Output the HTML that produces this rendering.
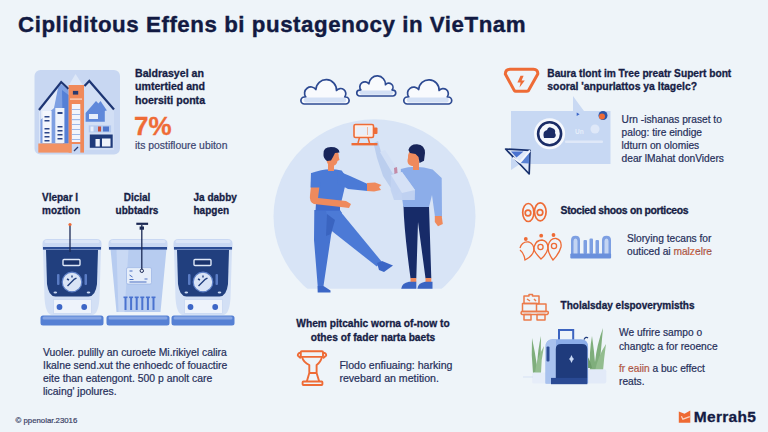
<!DOCTYPE html>
<html><head><meta charset="utf-8">
<style>
html,body{margin:0;padding:0;}
body{width:768px;height:432px;overflow:hidden;position:relative;background:#eef4f9;font-family:"Liberation Sans",sans-serif;}
.t{position:absolute;white-space:nowrap;}
svg{position:absolute;left:0;top:0;}
</style></head><body>
<svg width="768" height="432" viewBox="0 0 768 432">
<defs><linearGradient id="bg" x1="0" y1="0" x2="0" y2="1"><stop offset="0" stop-color="#eef2f9"/><stop offset="1" stop-color="#eef2f9"/></linearGradient></defs>
<path d="M304.4,104.0 A3.5,3.5 0 0 1 304.4,97.0 L305.8,97.0 A5.0,5.0 0 0 1 315.9,89.5 A7.5,7.5 0 0 1 336.5,90.5 A5.0,5.0 0 0 1 344.7,97.0 L345.6,97.0 A3.5,3.5 0 0 1 345.6,104.0 Z" fill="#f8fafd" stroke="#2d4a92" stroke-width="1.7" stroke-linejoin="round"/><rect x="303.9" y="97.5" width="42.2" height="5.0" rx="2.5" fill="#d3e0f5"/><path d="M359.7,96.0 A2.9,2.9 0 0 1 359.7,90.1 L360.9,90.1 A4.2,4.2 0 0 1 368.9,83.8 A6.3,6.3 0 0 1 385.5,84.7 A4.2,4.2 0 0 1 392.0,90.1 L392.8,90.1 A2.9,2.9 0 0 1 392.8,96.0 Z" fill="#f8fafd" stroke="#2d4a92" stroke-width="1.7" stroke-linejoin="round"/><rect x="359.3" y="90.5" width="33.9" height="4.2" rx="2.1" fill="#d3e0f5"/><path d="M407.3,104.0 A3.5,3.5 0 0 1 407.3,97.0 L408.8,97.0 A5.0,5.0 0 0 1 418.7,89.5 A7.5,7.5 0 0 1 439.1,90.5 A5.0,5.0 0 0 1 447.2,97.0 L448.2,97.0 A3.5,3.5 0 0 1 448.2,104.0 Z" fill="#f8fafd" stroke="#2d4a92" stroke-width="1.7" stroke-linejoin="round"/><rect x="406.9" y="97.5" width="41.8" height="5.0" rx="2.5" fill="#d3e0f5"/><clipPath id="cc"><rect x="0" y="0" width="768" height="288.7"/></clipPath><ellipse cx="374.5" cy="216.3" rx="101" ry="97" fill="#d8e4f6" clip-path="url(#cc)"/><g>
<rect x="34.5" y="70" width="85.5" height="84.5" rx="6" fill="#c8d7f2"/>
<path d="M75.5,74 L86,90 L66,90 Z" fill="#dde7f7"/>
<path d="M39,110 L61.2,82 L68.6,89 L68.6,143.5 L39,143.5 Z" fill="#dbe6f8"/>
<path d="M40.4,108 L61.2,84 L68.6,90 L68.6,143.5 L40.4,143.5 Z" fill="#7d9fe2"/><path d="M40.4,108 L58,88 L54,108 L40.4,120 Z" fill="#e3ebf9"/><path d="M62,90 L68.6,95 L68.6,143.5 L63,143.5 Z" fill="#5580d6"/>
<rect x="42.5" y="111" width="9.1" height="32" fill="#f3f6fc"/>
<rect x="55.3" y="108" width="9.1" height="35" fill="#eef3fb"/>
<g fill="#2c4688"><rect x="44.5" y="116" width="5" height="1.5"/><rect x="44.5" y="120" width="5" height="1.5"/><rect x="44.5" y="128" width="5" height="1.5"/><rect x="44.5" y="132" width="5" height="1.5"/><rect x="44.5" y="136" width="5" height="1.5"/><rect x="44.5" y="140" width="5" height="1.5"/>
<rect x="57.5" y="112" width="5" height="2"/><rect x="57.5" y="126" width="5" height="1.5"/><rect x="57.5" y="130" width="5" height="1.5"/><rect x="57.5" y="134" width="5" height="1.5"/><rect x="57.5" y="138" width="5" height="1.5"/></g>
<path d="M39,110 L61.2,82 L68.6,89" fill="none" stroke="#1d3573" stroke-width="2.2" stroke-linejoin="miter"/>
<path d="M84.5,86 L89.3,81 L114,109.5 L114,150 L84.5,150 Z" fill="#d2dff5"/>
<path d="M85.6,121.7 L85.6,113 L96,101 L104.8,110 L104.8,121.7 Z" fill="#5f88da"/>
<rect x="89" y="114" width="9" height="5" fill="#e6eefa"/>
<path d="M89.8,113.8 L100.5,101 L106.9,110.6 Z" fill="#5f88da"/>
<rect x="88.8" y="125.4" width="22.3" height="7" fill="#b3c8ee"/>
<rect x="90.5" y="126.5" width="3" height="5" fill="#e8eefa"/><rect x="98" y="126.5" width="3" height="5" fill="#c84e3a"/><rect x="103" y="126.5" width="6" height="5" fill="#4f76cc"/>
<path d="M84.5,86 L89.3,81 L114,109.5" fill="none" stroke="#1d3573" stroke-width="2.2"/>
<rect x="68.6" y="85" width="15.4" height="67.6" fill="#f0895a"/>
<rect x="72.9" y="90.9" width="5.3" height="3.7" fill="#2a3a6e"/>
<rect x="70" y="98.5" width="12" height="1.2" fill="#fbd9c6"/>
<rect x="71.8" y="104" width="8.5" height="38" fill="#f2f5fc"/>
<g fill="#9db9ea"><rect x="71.8" y="109" width="8.5" height="1"/><rect x="71.8" y="114" width="8.5" height="1"/><rect x="71.8" y="119" width="8.5" height="1.2"/><rect x="71.8" y="124" width="8.5" height="1"/><rect x="71.8" y="129" width="8.5" height="1"/><rect x="71.8" y="134" width="8.5" height="1"/><rect x="71.8" y="139" width="8.5" height="1"/></g>
<rect x="38.3" y="143.5" width="33.5" height="9.1" fill="#f29264"/>
<rect x="71.8" y="144" width="8.5" height="9.5" fill="#c6d6f2"/>
<path d="M74,151 L78,147" stroke="#2a3a6e" stroke-width="1.3"/>
<rect x="89.8" y="134.5" width="22.9" height="13.3" fill="#1f3a7a"/>
<rect x="95.5" y="139" width="4.3" height="7.5" fill="#f0f4fb"/>
<rect x="102" y="138.5" width="8.5" height="8" fill="#f0f4fb"/>
</g><rect x="40.5" y="315.5" width="63" height="10" rx="2.5" fill="#5580d4"/><rect x="42.5" y="316.5" width="59" height="3" rx="1.5" fill="#86a5e3"/><path d="M43.0,249 L101.0,249 L99.5,298 Q98.5,314 92.5,315 L51.5,315 Q45.5,314 44.5,298 Z" fill="#d3e0f5"/><path d="M46.0,250 L98.0,250 L97.0,284 Q95.5,296.5 88.5,296.5 L55.5,296.5 Q48.5,296.5 47.0,284 Z" fill="#213f7e"/><rect x="53.5" y="299.5" width="38" height="14" fill="#eef3fb" stroke="#c9d8f2" stroke-width="0.8"/><circle cx="72.0" cy="282" r="9.8" fill="#d9e4f6" stroke="#5d7fc6" stroke-width="1.2"/><path d="M67.5,286 L74.5,279 M67.0,279 l2,1 M72.0,275.5 l0,2 M76.5,278 l-2,1.2" stroke="#213f7e" stroke-width="1.4"/><rect x="63.0" y="259.5" width="17" height="6" rx="1" fill="#1a336c" stroke="#dfe8f8" stroke-width="1.4"/><rect x="57.0" y="274" width="2.5" height="11" rx="1" fill="#5a7cc4"/><rect x="84.5" y="274" width="2.5" height="11" rx="1" fill="#5a7cc4"/><ellipse cx="55.3" cy="292.5" rx="1.8" ry="1" fill="#c9d8f2"/><ellipse cx="88.5" cy="292.5" rx="1.8" ry="1" fill="#c9d8f2"/><circle cx="59.5" cy="307" r="2.9" fill="#3d66c6"/><circle cx="84.2" cy="307" r="2.9" fill="#3d66c6"/><path d="M42.5,249.5 L42.5,243.5 Q42.5,239 47.5,239 L96.5,239 Q101.5,239 101.5,243.5 L101.5,249.5 Z" fill="#c9d8f3"/><rect x="44.5" y="240" width="55" height="3" rx="1.5" fill="#dbe5f7"/><rect x="43.0" y="247" width="58" height="2.6" fill="#2a4b94"/><rect x="106.5" y="315.5" width="63" height="10" rx="2.5" fill="#5580d4"/><rect x="108.5" y="316.5" width="59" height="3" rx="1.5" fill="#86a5e3"/><path d="M110.5,249 L166.5,249 L160.5,312 L116.5,312 Z" fill="#b7ccf0"/><path d="M116.5,249 L128.5,249 L124.5,312 L118.5,312 Z" fill="#c9d9f4"/><rect x="126.5" y="267.6" width="25" height="16.5" rx="1.5" fill="#e6eefa" stroke="#9fb8e6" stroke-width="0.8"/><path d="M129.5,271 l3,0 M129.5,275 l3,2 M129.5,279.5 l4,0 M129.5,282 l17,0 M144.5,279 l3,0" stroke="#4a6fc2" stroke-width="1"/><rect x="124.5" y="297" width="2" height="13" fill="#4a72cf"/><rect x="123.5" y="296.5" width="4" height="1.6" fill="#4a72cf"/><rect x="130.1" y="297" width="2" height="13" fill="#4a72cf"/><rect x="129.1" y="296.5" width="4" height="1.6" fill="#4a72cf"/><rect x="135.7" y="297" width="2" height="13" fill="#4a72cf"/><rect x="134.7" y="296.5" width="4" height="1.6" fill="#4a72cf"/><rect x="141.3" y="297" width="2" height="13" fill="#4a72cf"/><rect x="140.3" y="296.5" width="4" height="1.6" fill="#4a72cf"/><rect x="146.9" y="297" width="2" height="13" fill="#4a72cf"/><rect x="145.9" y="296.5" width="4" height="1.6" fill="#4a72cf"/><rect x="152.5" y="297" width="2" height="13" fill="#4a72cf"/><rect x="151.5" y="296.5" width="4" height="1.6" fill="#4a72cf"/><path d="M108.5,249.5 L108.5,243.5 Q108.5,239 113.5,239 L162.5,239 Q167.5,239 167.5,243.5 L167.5,249.5 Z" fill="#c9d8f3"/><rect x="110.5" y="240" width="55" height="3" rx="1.5" fill="#dbe5f7"/><rect x="109.0" y="247" width="58" height="2.6" fill="#2a4b94"/><rect x="171.5" y="315.5" width="63" height="10" rx="2.5" fill="#5580d4"/><rect x="173.5" y="316.5" width="59" height="3" rx="1.5" fill="#86a5e3"/><path d="M174.0,249 L232.0,249 L230.5,298 Q229.5,314 223.5,315 L182.5,315 Q176.5,314 175.5,298 Z" fill="#d3e0f5"/><path d="M177.0,250 L229.0,250 L228.0,284 Q226.5,296.5 219.5,296.5 L186.5,296.5 Q179.5,296.5 178.0,284 Z" fill="#213f7e"/><rect x="184.5" y="299.5" width="38" height="14" fill="#eef3fb" stroke="#c9d8f2" stroke-width="0.8"/><circle cx="203.0" cy="282" r="9.8" fill="#d9e4f6" stroke="#5d7fc6" stroke-width="1.2"/><path d="M198.5,286 L205.5,279 M198.0,279 l2,1 M203.0,275.5 l0,2 M207.5,278 l-2,1.2" stroke="#213f7e" stroke-width="1.4"/><rect x="194.0" y="259.5" width="17" height="6" rx="1" fill="#1a336c" stroke="#dfe8f8" stroke-width="1.4"/><rect x="188.0" y="274" width="2.5" height="11" rx="1" fill="#5a7cc4"/><rect x="215.5" y="274" width="2.5" height="11" rx="1" fill="#5a7cc4"/><ellipse cx="186.3" cy="292.5" rx="1.8" ry="1" fill="#c9d8f2"/><ellipse cx="219.5" cy="292.5" rx="1.8" ry="1" fill="#c9d8f2"/><circle cx="190.5" cy="307" r="2.9" fill="#3d66c6"/><circle cx="215.2" cy="307" r="2.9" fill="#3d66c6"/><path d="M173.5,249.5 L173.5,243.5 Q173.5,239 178.5,239 L227.5,239 Q232.5,239 232.5,243.5 L232.5,249.5 Z" fill="#c9d8f3"/><rect x="175.5" y="240" width="55" height="3" rx="1.5" fill="#dbe5f7"/><rect x="174.0" y="247" width="58" height="2.6" fill="#2a4b94"/><line x1="70" y1="225" x2="70" y2="252" stroke="#1c2a55" stroke-width="1.3"/><circle cx="70" cy="224.5" r="1.6" fill="#ee6b36"/><line x1="141.8" y1="225" x2="141.8" y2="270" stroke="#1c2a55" stroke-width="1.3"/><rect x="136.3" y="222.7" width="11.8" height="2.2" fill="#1c2a55"/><rect x="139.6" y="226.5" width="4.4" height="3.2" fill="#1c2a55"/><circle cx="141.8" cy="270.8" r="1.7" fill="#e6eefa" stroke="#1c2a55" stroke-width="1"/><g>
<!-- transparent bottle / beam -->
<path d="M373.5,143 L378,141 L381,152 L394,166 L404,186 L396,196 L383,176 L377,158 Z" fill="#b9cced" opacity="0.95"/>
<path d="M380,152 L385,150 L398,170 L393,174 Z" fill="#d3e0f5"/>
<path d="M394,168 L397,167 L398,178 L395,180 Z" fill="#c48aa6"/>
<!-- monitor icon -->
<rect x="354" y="124.5" width="19.5" height="13" rx="1.5" fill="#fbeee8" stroke="#ee6b36" stroke-width="1.6"/>
<rect x="356.5" y="127" width="14.5" height="8" fill="#e9eff9"/><rect x="367" y="127" width="1" height="8" fill="#f3b79a"/>
<rect x="373.5" y="127.5" width="4" height="6.5" rx="1" fill="#ee6b36"/>
<path d="M359.5,137.5 L358,143 M368,137.5 L369.5,143" stroke="#ee6b36" stroke-width="1.5"/>
<rect x="351.5" y="143" width="26" height="2.4" fill="#ee6b36"/>
<!-- person 1 legs -->
<path d="M314.3,210 L340,210 L342,213 L332,229 L323.5,286 L317.7,286 L314,240 Z" fill="#4673d0"/>
<path d="M326,211 L340,211 L381.4,261.3 L376.8,266.5 L330.5,230 Z" fill="#4c7ad6"/>
<path d="M327,214 L335,220 L331,234 L326,236 Z" fill="#3a64c0"/>
<path d="M377,263 L382,261 L393,265.5 L384,272 L379,270 Z" fill="#3b66c6"/>
<path d="M317.5,286 L323.5,286 L330.5,290.5 L330.5,292.6 L317.7,292.6 Z" fill="#3b66c6"/>
<!-- person 1 torso -->
<path d="M312,173 Q326,167 341.7,170.5 L347,178 L340,207.6 L317.6,207.6 L313,190 Z" fill="#4b7ad6"/>
<path d="M316,203 L340,203 L340,210.5 L315.5,210.5 Z" fill="#3f6acb"/>
<path d="M338,171 L350,176 L367.7,184 L367.7,191 L348,189 L337,183 Z" fill="#4b7ad6"/>
<path d="M367,183 L375,182.5 L381.5,185 L379,187 L381,190 L374,191.5 L367,191 Z" fill="#ef8a5d"/>
<path d="M311,186 L319.5,186 L318,198 L346,201 L351,204 L349,208 L341,207 L314,204 Q309,202 310,195 Z" fill="#ef8a5d"/>
<path d="M311,173 L319,172 L320.5,187.5 L310.5,187.5 Z" fill="#4b7ad6"/>
<rect x="328" y="162" width="6" height="9" fill="#ef8a5d"/>
<path d="M326.5,156 Q327,149 333,149 Q339,150 338.8,157 L339.5,160 L337.5,161 Q337,166 331,166 Q327,165 326.5,160 Z" fill="#ef8a5d"/>
<path d="M323.5,154 Q323,147 331,147 Q339,147 339.5,152.5 L335,153 L333,157 L331,160.5 L327,161 Q323,158 323.5,154 Z" fill="#18255a"/>
<!-- person 2 legs -->
<path d="M403.5,206 L429,206 L431.3,278.3 L425.5,278.3 L418,222 L416.3,278.3 L410.5,278.3 Q404,230 403.5,206 Z" fill="#172b68"/>
<rect x="410.5" y="278" width="5.8" height="4" fill="#ef8a5d"/><rect x="425.5" y="278" width="5.8" height="4" fill="#ef8a5d"/>
<path d="M409,281.8 L416.3,281.8 L416.3,288.75 L401.2,288.75 Q402,283 409,281.8 Z" fill="#3a64c2"/>
<path d="M425,281.8 L432.5,281.8 L432.5,288.75 L417.4,288.75 Q418,283 425,281.8 Z" fill="#3a64c2"/>
<!-- person 2 torso -->
<path d="M400.8,169 Q416,164 432.6,169.6 L441.7,178 L442,217 L435,217 L432,195 L429,207 L403.3,207 L401,190 Z" fill="#8cade9"/>
<path d="M434.8,216 L441.7,216 L442.8,224 L438,226.2 L434.8,222 Z" fill="#ef8a5d"/>
<rect x="413" y="161" width="6" height="9" fill="#ef8a5d"/>
<path d="M408,158 Q407.5,151 413,150 Q419,150 419,157 L418.6,166 L412,166 Q407,165 407.5,160 Z" fill="#ef8a5d"/>
<path d="M408.4,150 Q410,144 417,144.2 Q425,145 425,153 L424,160.7 L419.5,163 L418.5,157 L415.5,154 L410,153 Z" fill="#18255a"/>
<path d="M391,175 L402,172 L415,190 L414.8,200 L394,200 L390.6,190 Z" fill="#c2d3f1" opacity="0.95"/>
<path d="M391,175 L402,172 L415,190 L402,193 Z" fill="#d5e1f6"/>
</g><g fill="none" stroke="#ee6b36" stroke-width="1.9" stroke-linejoin="round">
<rect x="300.8" y="351.3" width="22.2" height="5.6" rx="1"/>
<path d="M300.6,352.8 Q297.6,353 297.8,355.5 L300.8,358.2 M323,352.8 Q326.4,353 326.2,355.5 L323,358.2"/>
<path d="M302,357 Q303.5,362.5 309.3,365 L309.3,373 L306.8,381.5 M322,357 Q320.5,362.5 316.6,365 L316.6,373 L319.2,381.5 M309.3,373 L316.6,373"/>
<rect x="302.6" y="381.5" width="19.8" height="3.5" rx="0.8"/>
</g><path d="M505.3,74 Q505.5,69.2 510,69.2 L533.5,69.2 Q538,69.2 537.8,74 L528.5,90.6 Q527.8,91.3 526.5,91.3 L515.8,91.3 Q514.8,91.3 514.2,90.4 Z" fill="none" stroke="#ee6b36" stroke-width="3" stroke-linejoin="round"/>
<path d="M520.5,75.8 L523.6,75.8 L521.6,80.6 L524.8,80.6 L519.5,87.6 L520.6,82.6 L517.4,82.6 Z" fill="#ee6b36"/><g>
<path d="M573,96 Q578,103 584,111 L573,111 Z" fill="#c9d9f3"/>
<rect x="511" y="111" width="99.5" height="53" fill="#c7d8f3"/>
<circle cx="603" cy="115.5" r="4.5" fill="#2c55a8"/><circle cx="602" cy="116.5" r="3" fill="#ee6b36"/>
<path d="M576.7,112.5 L579.6,114.2 L576.7,116 Z" fill="#3b66c8"/><text x="575" y="134" font-family="Liberation Sans" font-size="6.5" font-weight="bold" fill="#e6eefa">Un</text>
<circle cx="549.6" cy="133.8" r="15.5" fill="#f5f8fd"/>
<circle cx="549.6" cy="133.8" r="11.5" fill="none" stroke="#1a2c66" stroke-width="2.6"/>
<path d="M544,138 Q542,131 547,130 Q548,126 552,128 Q556,129 555,133 Q557,136 554,138 Z" fill="#1a2c66"/>
<rect x="565" y="140.5" width="38" height="2.5" rx="1" fill="#dfe8f8"/>
<circle cx="595" cy="129" r="4.5" fill="#dfe8f8"/>
<path d="M511,164 L520,164 L511,170 Z" fill="#c7d8f3"/>
<path d="M505.6,149 L530,150.3 L529.2,174 Z" fill="#dfe8f8" stroke="#17306e" stroke-width="1.7" stroke-linejoin="round"/>
<path d="M511,151.5 L523.5,151.5 L516.5,157.5 Z" fill="#4a72cf"/>
<path d="M529.3,152 L529.2,163.5 L519.5,163 Z" fill="#5a82d4"/>
<path d="M513,157.5 L520,162.5 L530,150.5" fill="none" stroke="#f3f6fc" stroke-width="2"/>
</g><g fill="none" stroke="#ee6b36" stroke-width="1.7">
<ellipse cx="528.3" cy="212.5" rx="5.6" ry="9"/><ellipse cx="540.3" cy="211.8" rx="5.8" ry="9"/>
<circle cx="528" cy="213" r="2.8"/><circle cx="540" cy="212.5" r="2.8"/>
</g><g fill="none" stroke="#ee6b36" stroke-width="1.3">
<circle cx="525.8" cy="239" r="1.9" fill="#ee6b36" stroke="none"/><circle cx="541.2" cy="235.7" r="1.9" fill="#ee6b36" stroke="none"/><circle cx="553.5" cy="235" r="1.9" fill="#ee6b36" stroke="none"/>
<path d="M520,248 Q522,241 529,242 Q534,244 534,250 Q533,256 525,260 Q524,253 520,250"/>
<path d="M534,247 Q536,240 542,240 Q548,241 548,248 Q547,254 541,259 Q536,254 534,250 Z"/>
<path d="M548,246 Q550,238 556,238.5 Q562,240 561,247 Q559,254 553,260 Q548,253 548,248 Z"/>
<circle cx="540.5" cy="247" r="2.6"/><circle cx="554" cy="246" r="2.6"/>
</g><g>
<path d="M571,254 L571,240 Q571,235.7 575.5,235.7 Q580,235.7 580,240 L580,254 Z" fill="#7d9fe2"/>
<path d="M573.5,254 L573.5,241 Q573.5,238.5 575.5,238.5 Q577.5,238.5 577.5,241 L577.5,254 Z" fill="#c4d5f3"/>
<path d="M602,254 L602,240 Q602,235.7 606.5,235.7 Q611,235.7 611,240 L611,254 Z" fill="#7d9fe2"/>
<path d="M604.5,254 L604.5,241 Q604.5,238.5 606.5,238.5 Q608.5,238.5 608.5,241 L608.5,254 Z" fill="#c4d5f3"/>
<rect x="583.5" y="240" width="3.5" height="14" rx="1" fill="#7d9fe2"/>
<rect x="589.5" y="238.5" width="3.5" height="15.5" rx="1" fill="#7d9fe2"/>
<rect x="595.5" y="240" width="3.5" height="14" rx="1" fill="#7d9fe2"/>
<rect x="570.3" y="253.5" width="40.8" height="5" rx="1" fill="#6a90dc"/>
</g><g fill="none" stroke="#ec7a4a" stroke-width="1.5" stroke-linejoin="round">
<path d="M524,296 L529,296 L529,294.5 L532.5,294.5 L532.5,296 L539,296 L539,303.5 L524,303.5 Z"/>
<path d="M527,299 L530,301 M534,299 L536,301"/>
<path d="M522.5,303.5 L536.5,303.5 L536.5,311.5 L522.5,311.5 Z"/>
<path d="M536.5,304 L546,304 L546,311.5 L536.5,311.5"/>
<path d="M521.5,311.5 L548,311.5 Q549,313.5 547,314.5 L522,314.5 Q520.5,313.5 521.5,311.5 Z"/>
<path d="M524,314.5 L531,314.5 L531,320 L524,320 Z"/>
<path d="M537,314.5 L545,314.5 L545,320 L537,320 Z"/>
</g><g>
<path d="M533,373 Q531,355 532,338 Q535,352 537,366 Q538,348 541,336 Q541,354 540,372 Z" fill="#7fae7c"/>
<path d="M535,373 Q536,360 544,346 Q541,360 541,373 Z" fill="#93bd8f"/>
<path d="M590,371 Q589,352 592,336 Q594,350 595,362 Q597,344 603,328 Q601,350 599,371 Z" fill="#7fae7c"/>
<path d="M595,371 Q598,356 606,344 Q604,358 603,371 Z" fill="#93bd8f"/>
<path d="M588,368 Q586,356 584,352 Q590,358 592,368 Z" fill="#6d9c6a"/>
<rect x="532.2" y="372.4" width="18.8" height="11" rx="1.5" fill="#e6edf9"/>
<rect x="587.3" y="369.2" width="19" height="14.2" rx="2" fill="#e2eaf8"/>
<line x1="523" y1="377" x2="533" y2="377" stroke="#d6e1f4" stroke-width="1"/>
<path d="M559,340.5 L559,330 L573.2,330 L573.2,340.5" fill="none" stroke="#3c64c0" stroke-width="2"/>
<path d="M545.6,383.4 L545.6,347 Q545.6,339.3 553,339.3 L581,339.3 Q588.1,339.3 588.1,347 L588.1,383.4 Z" fill="#8cade8"/>
<path d="M545.6,383.4 L545.6,347 Q545.6,339.3 553,339.3 L556,339.3 L556,383.4 Z" fill="#a9c2ee"/>
<path d="M555.8,377.9 L555.8,349 Q555.8,344 561,344 L582,344 Q587.3,344 587.3,349 L587.3,377.9 Z" fill="#1f3b7c"/>
<rect x="551" y="377.9" width="36.3" height="6.3" fill="#2a4a94"/>
<rect x="546.5" y="346.5" width="3" height="15" rx="1" fill="#2a4a94"/>
<path d="M571.5,356.5 L572.7,359 L571.5,361.5 L570.3,359 Z M569,359 L574,359" stroke="#c8d8f4" stroke-width="1.2" fill="#c8d8f4"/>
<path d="M584,339.5 Q586,336 588,338" stroke="#1f3b7c" stroke-width="1.2" fill="none"/>
</g><path d="M678.8,411.5 L684.5,413.8 L690.3,410.6 L690.3,422.8 L678.8,422.8 Z" fill="#ee6a33"/><path d="M681.4,416.2 L682.9,419.2 L689.8,416.7" stroke="#f9d3c1" stroke-width="1.3" fill="none"/>
</svg>
<div class="t" style="left:18px;top:12.49px;font-size:22.3px;line-height:26.76px;font-weight:bold;color:#121a42;-webkit-text-stroke:0.3px #121a42;letter-spacing:0.55px;-webkit-text-stroke:0.4px #121a42;">Cipliditous Effens bi pustagenocy in VieTnam</div><div class="t" style="left:135px;top:66.77px;font-size:10.6px;line-height:12.72px;font-weight:bold;color:#161d45;-webkit-text-stroke:0.3px #161d45;">Baldrasyel an</div><div class="t" style="left:135px;top:80.17px;font-size:10.6px;line-height:12.72px;font-weight:bold;color:#161d45;-webkit-text-stroke:0.3px #161d45;">umtertied and</div><div class="t" style="left:135px;top:94.27px;font-size:10.6px;line-height:12.72px;font-weight:bold;color:#161d45;-webkit-text-stroke:0.3px #161d45;">hoersiti ponta</div><div class="t" style="left:134px;top:110.69px;font-size:26px;line-height:31.2px;font-weight:bold;color:#ee6b36;-webkit-text-stroke:0.3px #ee6b36;">7%</div><div class="t" style="left:135px;top:140.16px;font-size:10.4px;line-height:12.48px;font-weight:normal;color:#3b4570;-webkit-text-stroke:0.2px #3b4570;">its postifloure ubiton</div><div class="t" style="left:42px;top:191.53px;font-size:10px;line-height:12.0px;font-weight:bold;color:#161d45;-webkit-text-stroke:0.3px #161d45;">Vlepar l</div><div class="t" style="left:42px;top:204.53px;font-size:10px;line-height:12.0px;font-weight:bold;color:#161d45;-webkit-text-stroke:0.3px #161d45;">moztion</div><div class="t" style="left:-63px;width:400px;text-align:center;top:191.53px;font-size:10px;line-height:12.0px;font-weight:bold;color:#161d45;-webkit-text-stroke:0.3px #161d45;">Dicial</div><div class="t" style="left:-63px;width:400px;text-align:center;top:204.53px;font-size:10px;line-height:12.0px;font-weight:bold;color:#161d45;-webkit-text-stroke:0.3px #161d45;">ubbtadrs</div><div class="t" style="left:193.5px;top:191.53px;font-size:10px;line-height:12.0px;font-weight:bold;color:#161d45;-webkit-text-stroke:0.3px #161d45;">Ja dabby</div><div class="t" style="left:193.5px;top:204.53px;font-size:10px;line-height:12.0px;font-weight:bold;color:#161d45;-webkit-text-stroke:0.3px #161d45;">hapgen</div><div class="t" style="left:43px;top:347.16px;font-size:10.4px;line-height:12.48px;font-weight:normal;color:#262f5a;-webkit-text-stroke:0.2px #262f5a;">Vuoler. pulilly an curoete Mi.rikiyel calira</div><div class="t" style="left:43px;top:360.16px;font-size:10.4px;line-height:12.48px;font-weight:normal;color:#262f5a;-webkit-text-stroke:0.2px #262f5a;">Ikalne send.xut the enhoedc of fouactire</div><div class="t" style="left:43px;top:373.16px;font-size:10.4px;line-height:12.48px;font-weight:normal;color:#262f5a;-webkit-text-stroke:0.2px #262f5a;">eite than eatengont. 500 p anolt care</div><div class="t" style="left:43px;top:386.16px;font-size:10.4px;line-height:12.48px;font-weight:normal;color:#262f5a;-webkit-text-stroke:0.2px #262f5a;">licaing' jpolures.</div><div class="t" style="left:15.6px;top:415.62px;font-size:7.8px;line-height:9.36px;font-weight:normal;color:#3a4266;-webkit-text-stroke:0.2px #3a4266;">© ppenolar.23016</div><div class="t" style="left:173px;width:400px;text-align:center;top:317.65px;font-size:10.2px;line-height:12.24px;font-weight:bold;color:#161d45;-webkit-text-stroke:0.3px #161d45;">Whem pitcahic worna of-now to</div><div class="t" style="left:173px;width:400px;text-align:center;top:331.65px;font-size:10.2px;line-height:12.24px;font-weight:bold;color:#161d45;-webkit-text-stroke:0.3px #161d45;">othes of fader narta baets</div><div class="t" style="left:339.4px;top:359.47px;font-size:10.6px;line-height:12.72px;font-weight:normal;color:#262f5a;-webkit-text-stroke:0.2px #262f5a;">Flodo enfiuaing: harking</div><div class="t" style="left:339.4px;top:371.97px;font-size:10.6px;line-height:12.72px;font-weight:normal;color:#262f5a;-webkit-text-stroke:0.2px #262f5a;">revebard an metition.</div><div class="t" style="left:547.3px;top:68.15px;font-size:10.2px;line-height:12.24px;font-weight:bold;color:#161d45;-webkit-text-stroke:0.3px #161d45;">Baura tlont im Tree preatr Supert bont</div><div class="t" style="left:547.3px;top:80.96px;font-size:10.4px;line-height:12.48px;font-weight:bold;color:#161d45;-webkit-text-stroke:0.3px #161d45;">sooral 'anpurlattos ya ltagelc?</div><div class="t" style="left:621.6px;top:114.35px;font-size:10.2px;line-height:12.24px;font-weight:normal;color:#262f5a;-webkit-text-stroke:0.2px #262f5a;">Urn -ishanas praset to</div><div class="t" style="left:621.6px;top:127.35px;font-size:10.2px;line-height:12.24px;font-weight:normal;color:#262f5a;-webkit-text-stroke:0.2px #262f5a;">palog: tire eindige</div><div class="t" style="left:621.6px;top:139.85px;font-size:10.2px;line-height:12.24px;font-weight:normal;color:#262f5a;-webkit-text-stroke:0.2px #262f5a;">ldturn on olomies</div><div class="t" style="left:621.6px;top:152.85px;font-size:10.2px;line-height:12.24px;font-weight:normal;color:#262f5a;-webkit-text-stroke:0.2px #262f5a;">dear lMahat donViders</div><div class="t" style="left:560.6px;top:205.46px;font-size:10.4px;line-height:12.48px;font-weight:bold;color:#161d45;-webkit-text-stroke:0.3px #161d45;letter-spacing:-0.33px;">Stocied shoos on porticeos</div><div class="t" style="left:627px;top:233.35px;font-size:10.2px;line-height:12.24px;font-weight:normal;color:#262f5a;-webkit-text-stroke:0.2px #262f5a;">Slorying tecans for</div><div class="t" style="left:627px;top:246.35px;font-size:10.2px;line-height:12.24px;font-weight:normal;color:#262f5a;-webkit-text-stroke:0.2px #262f5a;">outiced ai <span style="color:#ee6b36">malzelre</span></div><div class="t" style="left:560.6px;top:299.54px;font-size:10px;line-height:12.0px;font-weight:bold;color:#161d45;-webkit-text-stroke:0.3px #161d45;">Tholalsday elspoverymisths</div><div class="t" style="left:619px;top:327.35px;font-size:10.2px;line-height:12.24px;font-weight:normal;color:#262f5a;-webkit-text-stroke:0.2px #262f5a;">We ufrire sampo o</div><div class="t" style="left:619px;top:341.35px;font-size:10.2px;line-height:12.24px;font-weight:normal;color:#262f5a;-webkit-text-stroke:0.2px #262f5a;">changtc a for reoence</div><div class="t" style="left:619px;top:363.35px;font-size:10.2px;line-height:12.24px;font-weight:normal;color:#262f5a;-webkit-text-stroke:0.2px #262f5a;"><span style="color:#ee6b36">fr eaiin</span> a buc effect</div><div class="t" style="left:619px;top:375.95px;font-size:10.2px;line-height:12.24px;font-weight:normal;color:#262f5a;-webkit-text-stroke:0.2px #262f5a;">reats.</div><div class="t" style="left:693.8px;top:407.83px;font-size:15.5px;line-height:18.6px;font-weight:bold;color:#141b44;-webkit-text-stroke:0.3px #141b44;letter-spacing:0.3px;">Merrah5</div>
</body></html>
